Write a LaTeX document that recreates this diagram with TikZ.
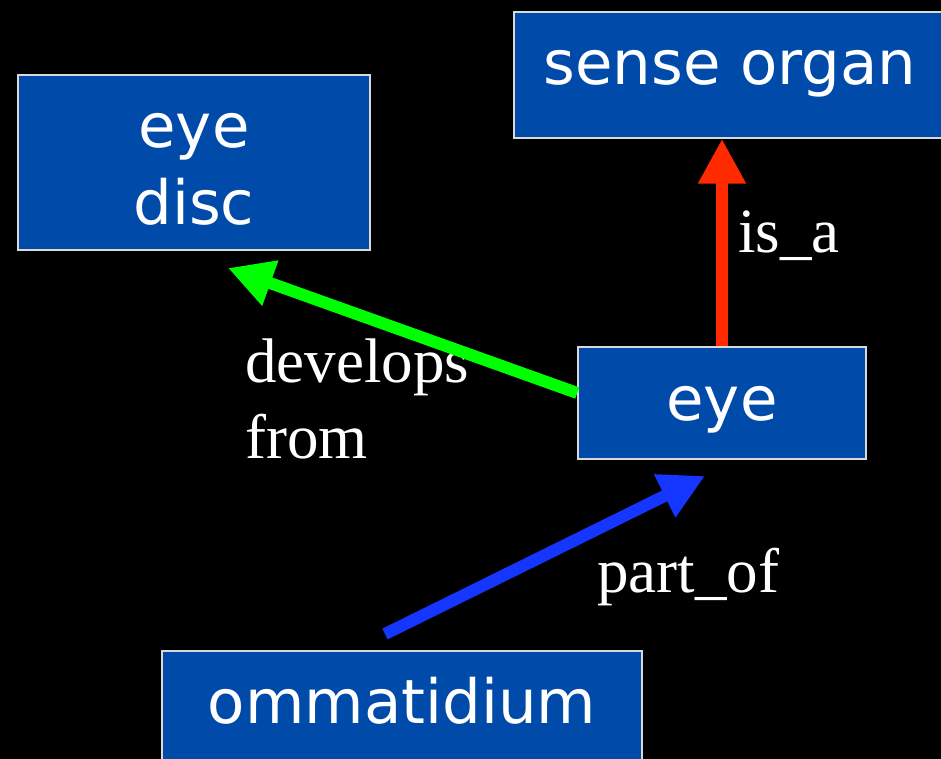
\documentclass[tikz,border=0pt]{standalone}
\usepackage{fontspec}
\setmainfont{Liberation Serif}
\newfontfamily\termfont{DejaVu Sans}
\usetikzlibrary{arrows.meta}

\definecolor{termblue}{RGB}{0,74,170}
\definecolor{isared}{RGB}{255,42,0}
\definecolor{devgreen}{RGB}{0,255,0}
\definecolor{partblue}{RGB}{20,54,255}

\tikzset{
  term/.style={draw=white!85!black, line width=1.5pt, fill=termblue, text=white,
    inner sep=0pt, font=\termfont\fontsize{61}{77}\selectfont},
  rel/.style={line width=12pt, -{Triangle[length=45pt,width=45pt]}},
  rellabel/.style={text=white, inner sep=0pt, anchor=base west,
    font=\fontsize{63}{76}\selectfont},
}

\begin{document}
\begin{tikzpicture}[x=1pt, y=-1pt]
  % background
  \fill[black] (0,0) rectangle (941,759);
  \useasboundingbox (0,0) rectangle (941,759);
  \clip (0,0) rectangle (941,759);

  % terms
  \node[term, minimum width=352pt, minimum height=175pt, align=center,
    text height=125pt, text depth=0pt] (disc) at (194,162.5) {eye\\disc};
  \node[term, minimum width=432pt, minimum height=126pt,
    text height=40pt, text depth=20pt] (sense) at (730,75) {sense organ};
  \node[term, minimum width=288pt, minimum height=112pt,
    text height=42pt, text depth=8pt] (eye) at (722,403) {eye};
  \node[term, minimum width=480pt, minimum height=144pt,
    text height=20pt, text depth=20pt] (omma) at (402,723) {ommatidium};

  % relation labels
  \node[rellabel] (isaLabel) at (738,252) {is\_a};
  \node[rellabel, align=left] (devLabel) at (245,458) {develops\\from};
  \node[rellabel] (partLabel) at (597,592) {part\_of};

  % free ends of the arrows
  \coordinate (discTip) at (228,268);
  \coordinate (ommaTail) at (385,634);
  \coordinate (eyeTip) at (705,476);

  % relations
  \draw[rel, isared] (eye.north) -- (eye.north |- sense.south);
  \draw[rel, devgreen] ([yshift=10pt]eye.west) -- (discTip);
  \draw[rel, partblue] (ommaTail) -- (eyeTip);
\end{tikzpicture}
\end{document}
